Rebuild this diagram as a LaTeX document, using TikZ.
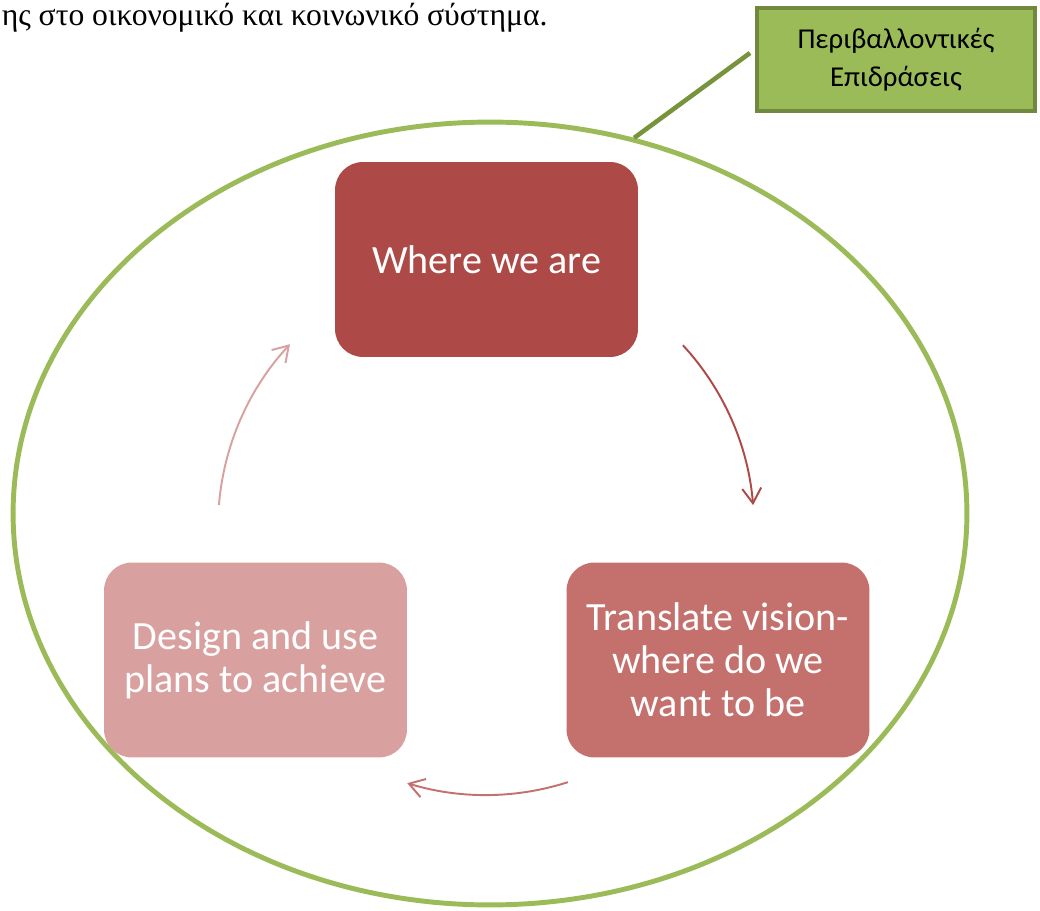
\documentclass[tikz,border=0pt]{standalone}
\usepackage{fontspec}
\setmainfont{Liberation Serif}
\newfontfamily\calibri{Carlito}
\usetikzlibrary{positioning, shapes.geometric, arrows.meta, calc}
\definecolor{envgreen}{HTML}{9BBB59}
\definecolor{envborder}{HTML}{71893F}
\definecolor{envline}{HTML}{77933C}
\definecolor{stepone}{HTML}{AD4A47}
\definecolor{steptwo}{HTML}{C4716E}
\definecolor{stepthree}{HTML}{D9A0A0}

\tikzset{
  stage/.style={rounded corners=0.56cm, minimum width=6.06cm, minimum height=3.9cm,
    inner sep=0pt, text=white, align=center, font=\calibri\fontsize{22.8}{24.5}\selectfont},
  cyclearrow/.style={line width=1.1pt, -{Straight Barb[length=0.3cm, width=0.38cm]}},
}

\begin{document}
\begin{tikzpicture}[x=0.02cm, y=0.02cm]
  \useasboundingbox (0,0) rectangle (1040,910);
  % κείμενο από πάνω
  \node[anchor=base east, inner sep=0pt, font=\fontsize{18}{21}\selectfont] (caption) at (548,884)
    {ης στο οικονομικό και κοινωνικό σύστημα.};
  % περιβάλλον
  \node[ellipse, draw=envgreen, line width=2.8pt, inner sep=0pt,
    minimum width=19.08cm, minimum height=15.66cm] (env) at (490,396.5) {};
  \node[draw=envborder, fill=envgreen, line width=2.3pt, minimum width=5.56cm, minimum height=2.06cm,
    align=center, font=\calibri\fontsize{16.4}{21.5}\selectfont] (impact) at (896,850.5)
    {Περιβαλλοντικές\\Επιδράσεις};
  \draw[envline, line width=2.6pt] ([xshift=-0.1cm, yshift=0.13cm]impact.west) -- (env.69);
  % ο κύκλος
  \coordinate (hub) at (486,383);
  \node[stage, fill=stepone] (where) at (486.5,650.5) {Where we are};
  \node[stage, fill=steptwo] (vision) at (718,250) {Translate vision-\\where do we\\want to be};
  \node[stage, fill=stepthree] (plans) at (255.5,250) {Design and use\\plans to achieve};
  \draw[cyclearrow, stepone] ([shift={(42.7:268)}]hub) arc[start angle=42.7, end angle=4.7, radius=268];
  \draw[cyclearrow, steptwo] ([shift={(-72.2:268)}]hub) arc[start angle=-72.2, end angle=-107.1, radius=268];
  \draw[cyclearrow, stepthree] ([shift={(175.3:268)}]hub) arc[start angle=175.3, end angle=137, radius=268];
\end{tikzpicture}
\end{document}
